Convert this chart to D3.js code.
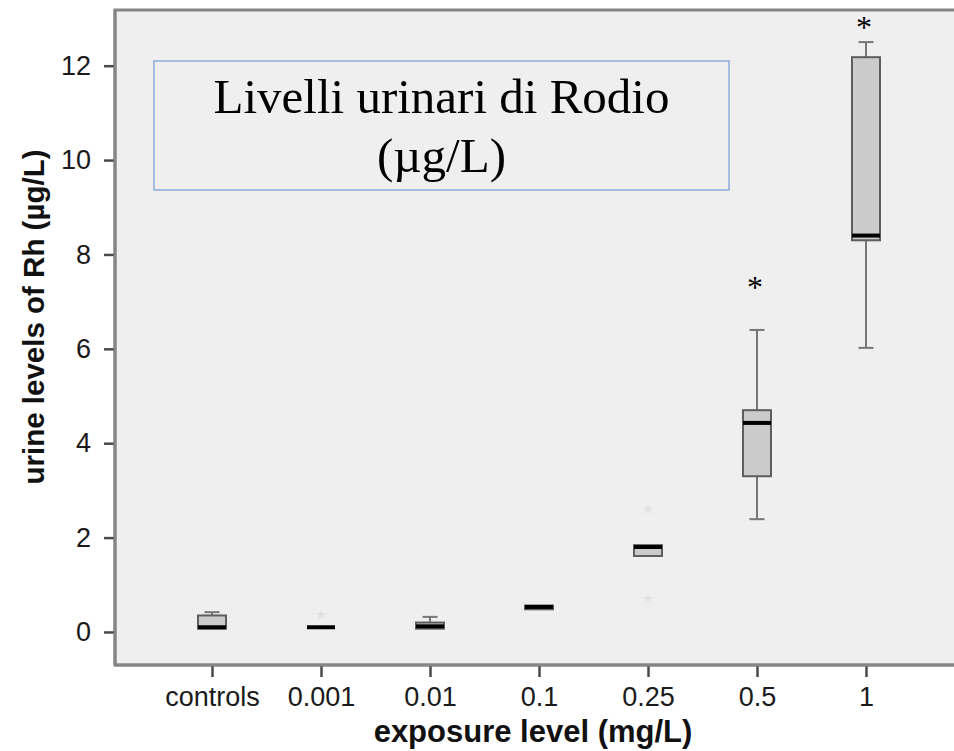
<!DOCTYPE html>
<html>
<head>
<meta charset="utf-8">
<script src="https://cdn.jsdelivr.net/npm/d3@7"></script>
<style>
  body { margin: 0; background: #ffffff; }
  svg { display: block; }
</style>
</head>
<body>
<div id="visContainer"></div>
<script>
'use strict';

// values (urine Rh, µg/L)
var categories  = ["controls", "0.001", "0.01", "0.1", "0.25", "0.5", "1"];
var whiskerLow  = [0.07, 0.10, 0.07, 0.48, 1.61, 2.39, 6.02];
var q1          = [0.07, 0.10, 0.07, 0.48, 1.61, 3.30, 8.30];
var medians     = [0.10, 0.10, 0.12, 0.53, 1.80, 4.43, 8.40];
var q3          = [0.35, 0.10, 0.20, 0.56, 1.84, 4.70, 12.18];
var whiskerHigh = [0.42, 0.10, 0.32, 0.56, 1.84, 6.40, 12.50];
var outliers    = [[], [0.36], [], [], [2.6, 0.7], [], []];
var sigMarks    = [null, null, null, null, null, 7.39, 12.9];   // level of the "*"
var yTicks      = [0, 2, 4, 6, 8, 10, 12];

var noteLines = ["Livelli urinari di Rodio", "(\u00b5g/L)"];
var xTitle = "exposure level (mg/L)";
var yTitle = "urine levels of Rh (\u00b5g/L)";

function drawChart() {
    var width = 954;
    var height = 751;
    var plot = {left: 115, top: 10, right: 963, bottom: 665};

    var svg = d3.select("#visContainer")
        .append("svg")
        .attr("width", width)
        .attr("height", height);

    var x = d3.scalePoint()
        .domain(categories)
        .range([plot.left, plot.right])
        .padding(0.89);

    var y = d3.scaleLinear()
        .domain([-0.7, 13.18])
        .range([plot.bottom, plot.top]);

    // plot background + frame
    svg.append("rect")
        .attr("x", plot.left)
        .attr("y", plot.top)
        .attr("width", plot.right - plot.left)
        .attr("height", plot.bottom - plot.top)
        .style("fill", "#efefef")
        .style("stroke", "#858585")
        .style("stroke-width", 3);

    // axes
    var yAxis = d3.axisLeft(y).tickValues(yTicks).tickSize(11).tickPadding(13);
    var gy = svg.append("g")
        .attr("transform", "translate(" + plot.left + ",0)")
        .call(yAxis);

    var xAxis = d3.axisBottom(x).tickSize(12).tickPadding(10);
    var gx = svg.append("g")
        .attr("transform", "translate(0," + plot.bottom + ")")
        .call(xAxis);

    [gx, gy].forEach(function(g) {
        g.select(".domain").remove();
        g.selectAll(".tick line").style("stroke", "#4a4a4a").style("stroke-width", 2.5);
        g.selectAll(".tick text")
            .style("font-family", "'Liberation Sans', Arial, sans-serif")
            .style("font-size", "27px")
            .style("fill", "#1a1a1a");
    });

    // bottom and left border drawn over the ticks
    svg.append("line")
        .attr("x1", plot.left).attr("x2", plot.right)
        .attr("y1", plot.bottom).attr("y2", plot.bottom)
        .style("stroke", "#858585").style("stroke-width", 3);
    svg.append("line")
        .attr("x1", plot.left).attr("x2", plot.left)
        .attr("y1", plot.top).attr("y2", plot.bottom)
        .style("stroke", "#858585").style("stroke-width", 3);

    // axis titles
    svg.append("text")
        .attr("x", 533)
        .attr("y", 742)
        .attr("text-anchor", "middle")
        .style("font-family", "'Liberation Sans', Arial, sans-serif")
        .style("font-weight", "bold")
        .style("font-size", "31px")
        .style("fill", "#111")
        .text(xTitle);

    svg.append("text")
        .attr("transform", "translate(44,317) rotate(-90)")
        .attr("text-anchor", "middle")
        .style("font-family", "'Liberation Sans', Arial, sans-serif")
        .style("font-weight", "bold")
        .style("font-size", "29.5px")
        .style("fill", "#111")
        .text(yTitle);

    // annotation box
    var note = {x: 154, y: 61, w: 575, h: 129};
    svg.append("rect")
        .attr("x", note.x).attr("y", note.y)
        .attr("width", note.w).attr("height", note.h)
        .style("fill", "none")
        .style("stroke", "#8eaadb")
        .style("stroke-width", 1.5);
    svg.append("text")
        .attr("x", note.x + note.w / 2)
        .attr("y", 113)
        .attr("text-anchor", "middle")
        .style("font-family", "'Liberation Serif', 'Times New Roman', serif")
        .style("font-size", "49px")
        .selectAll("tspan")
        .data(noteLines)
      .enter().append("tspan")
        .attr("x", note.x + note.w / 2)
        .attr("dy", function(d, i) { return i === 0 ? 0 : 59; })
        .text(function(d) { return d; });

    // box plots
    var boxW = 28;
    var capW = 15;
    var groups = svg.selectAll(".box")
        .data(categories)
      .enter().append("g")
        .attr("class", "box")
        .attr("transform", function(d) { return "translate(" + x(d) + ",0)"; });

    groups.each(function(d, i) {
        var g = d3.select(this);
        // whiskers
        if (whiskerHigh[i] > q3[i]) {
            g.append("line")
                .attr("x1", 0).attr("x2", 0)
                .attr("y1", y(q3[i])).attr("y2", y(whiskerHigh[i]))
                .style("stroke", "#777").style("stroke-width", 2);
            g.append("line")
                .attr("x1", -capW / 2).attr("x2", capW / 2)
                .attr("y1", y(whiskerHigh[i])).attr("y2", y(whiskerHigh[i]))
                .style("stroke", "#777").style("stroke-width", 2);
        }
        if (whiskerLow[i] < q1[i]) {
            g.append("line")
                .attr("x1", 0).attr("x2", 0)
                .attr("y1", y(q1[i])).attr("y2", y(whiskerLow[i]))
                .style("stroke", "#777").style("stroke-width", 2);
            g.append("line")
                .attr("x1", -capW / 2).attr("x2", capW / 2)
                .attr("y1", y(whiskerLow[i])).attr("y2", y(whiskerLow[i]))
                .style("stroke", "#777").style("stroke-width", 2);
        }
        // box
        if (q3[i] > q1[i]) {
            g.append("rect")
                .attr("x", -boxW / 2)
                .attr("y", y(q3[i]))
                .attr("width", boxW)
                .attr("height", y(q1[i]) - y(q3[i]))
                .style("fill", "#cbcbcb")
                .style("stroke", "#5e5e5e")
                .style("stroke-width", 2);
        }
        // median
        g.append("line")
            .attr("x1", -boxW / 2).attr("x2", boxW / 2)
            .attr("y1", y(medians[i])).attr("y2", y(medians[i]))
            .style("stroke", "#000").style("stroke-width", 4);
        // faint outliers
        g.selectAll(".outlier")
            .data(outliers[i])
          .enter().append("path")
            .attr("class", "outlier")
            .attr("transform", function(v) { return "translate(0," + y(v) + ")"; })
            .attr("d", d3.symbol().type(d3.symbolStar).size(40))
            .style("fill", "#e2e2e2");
        // significance marks
        if (sigMarks[i] !== null) {
            g.append("text")
                .attr("x", -2)
                .attr("y", y(sigMarks[i]))
                .attr("dy", "0.47em")
                .attr("text-anchor", "middle")
                .style("font-family", "'Liberation Serif', 'Times New Roman', serif")
                .style("font-size", "32px")
                .text("*");
        }
    });
}

drawChart();
</script>
</body>
</html>
